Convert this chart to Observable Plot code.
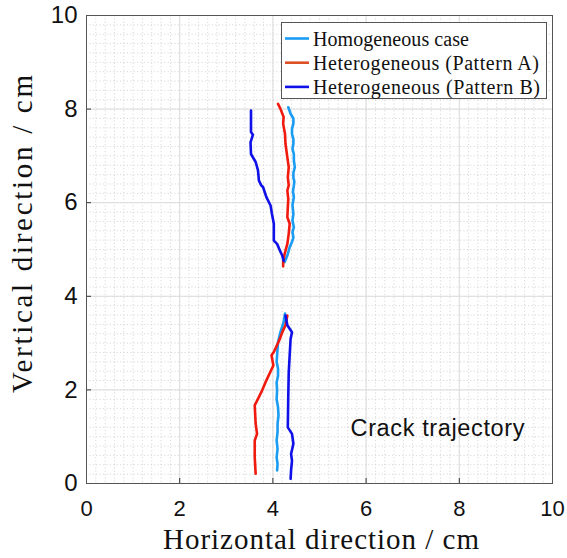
<!DOCTYPE html>
<html>
<head>
<meta charset="utf-8">
<script src="https://cdn.jsdelivr.net/npm/d3@7"></script>
<script src="https://cdn.jsdelivr.net/npm/@observablehq/plot@0.6"></script>
<style>
  html, body { margin: 0; padding: 0; background: #fff; }
</style>
</head>
<body>
<div id="chart"></div>
<script>
// Crack paths, in cm: [horizontal, vertical]
const homogeneousUpper = [[4.33,8.04],[4.38,7.90],[4.44,7.80],[4.44,7.69],[4.41,7.58],[4.41,7.47],[4.44,7.36],[4.44,7.26],[4.42,7.15],[4.45,7.04],[4.45,6.90],[4.47,6.76],[4.44,6.64],[4.44,6.54],[4.46,6.45],[4.45,6.37],[4.43,6.24],[4.45,6.12],[4.42,5.95],[4.44,5.76],[4.42,5.62],[4.45,5.48],[4.42,5.37],[4.44,5.26],[4.41,5.16],[4.36,5.05],[4.31,4.87],[4.25,4.73]];
const patternAUpper = [[4.11,8.11],[4.16,8.01],[4.23,7.83],[4.22,7.69],[4.26,7.47],[4.27,7.26],[4.31,6.97],[4.34,6.76],[4.32,6.54],[4.34,6.37],[4.31,6.26],[4.33,6.08],[4.32,5.90],[4.31,5.69],[4.36,5.55],[4.34,5.34],[4.31,5.12],[4.26,4.94],[4.22,4.76],[4.22,4.64]];
const patternBUpper = [[3.53,7.97],[3.53,7.51],[3.57,7.45],[3.52,7.29],[3.53,7.04],[3.63,6.87],[3.68,6.69],[3.70,6.47],[3.75,6.37],[3.79,6.33],[3.86,6.12],[3.95,5.94],[3.98,5.76],[4.02,5.55],[4.02,5.19],[4.09,5.12],[4.15,4.98],[4.20,4.87],[4.23,4.76]];

const homogeneousLower = [[4.09,0.28],[4.10,0.42],[4.08,0.56],[4.10,0.74],[4.08,0.92],[4.10,1.10],[4.10,1.28],[4.12,1.45],[4.11,1.63],[4.08,1.80],[4.09,1.99],[4.08,2.16],[4.11,2.30],[4.11,2.45],[4.08,2.60],[4.09,2.74],[4.11,3.02],[4.16,3.23],[4.23,3.45],[4.26,3.63]];
const patternALower = [[3.63,0.21],[3.61,0.56],[3.61,0.92],[3.66,1.06],[3.63,1.28],[3.61,1.67],[3.77,1.99],[3.84,2.16],[4.01,2.52],[3.97,2.74],[4.02,2.81],[4.15,3.09],[4.20,3.23],[4.27,3.38],[4.31,3.59]];
const patternBLower = [[4.38,0.10],[4.39,0.28],[4.41,0.49],[4.39,0.63],[4.44,0.85],[4.41,1.06],[4.32,1.20],[4.33,1.88],[4.34,2.38],[4.36,2.74],[4.38,3.09],[4.41,3.23],[4.31,3.38],[4.27,3.59]];

const seriesNames = ["Homogeneous case", "Heterogeneous (Pattern A)", "Heterogeneous (Pattern B)"];
const seriesColors = ["#1a9cf2", "#f01a0f", "#1010e8"];
const legendColors = ["#1a9cf2", "#dd4f24", "#1010e8"];

const axisTicks = [0, 2, 4, 6, 8, 10];
const minorTicks = d3.range(0, 10.001, 0.2);

const paths = [
  [homogeneousUpper, 0], [homogeneousLower, 0],
  [patternAUpper, 1], [patternALower, 1],
  [patternBUpper, 2], [patternBLower, 2]
];

const lineMarks = paths.map(([pts, k]) =>
  Plot.line(pts, {x: d => d[0], y: d => d[1], stroke: seriesColors[k], strokeWidth: 2.6, curve: "linear"})
);

const serif = "'Liberation Serif', 'DejaVu Serif', serif";

const chart = Plot.plot({
  width: 567,
  height: 558,
  marginLeft: 86,
  marginRight: 15,
  marginTop: 15,
  marginBottom: 75,
  style: {fontFamily: "'Liberation Sans', Arial, sans-serif", fontSize: "22px", color: "#111", background: "#fff"},
  x: {domain: [0, 10]},
  y: {domain: [0, 10]},
  marks: [
    Plot.gridX(minorTicks, {stroke: "#cfcfcf", strokeOpacity: 1, strokeDasharray: "1.2,2.2", strokeWidth: 0.8}),
    Plot.gridY(minorTicks, {stroke: "#cfcfcf", strokeOpacity: 1, strokeDasharray: "1.2,2.2", strokeWidth: 0.8}),
    Plot.gridX(axisTicks, {stroke: "#dcdcdc", strokeOpacity: 1}),
    Plot.gridY(axisTicks, {stroke: "#dcdcdc", strokeOpacity: 1}),
    Plot.axisX(axisTicks, {tickSize: -5, tickPadding: 22, fontSize: 22, label: null, stroke: "#333"}),
    Plot.axisY(axisTicks, {tickSize: -5, tickPadding: 14, fontSize: 24, label: null, stroke: "#333"}),
    Plot.frame({stroke: "#555"}),
    ...lineMarks,
    Plot.text(["Crack trajectory"], {frameAnchor: "bottom-right", dx: -28, dy: -48, textAnchor: "end", fontSize: 23.5, fill: "#111", className: "annot"})
  ]
});

const svg = d3.select(chart);
svg.selectAll(".annot text").attr("textLength", 174).attr("lengthAdjust", "spacing");

// axis titles
svg.append("text")
  .attr("x", 321).attr("y", 549)
  .attr("text-anchor", "middle")
  .attr("font-family", serif)
  .attr("font-size", 29).attr("fill", "#111")
  .attr("textLength", 316).attr("lengthAdjust", "spacing")
  .text("Horizontal direction / cm");
svg.append("text")
  .attr("transform", "translate(32,234) rotate(-90)")
  .attr("text-anchor", "middle")
  .attr("font-family", serif)
  .attr("font-size", 29).attr("fill", "#111")
  .attr("textLength", 318).attr("lengthAdjust", "spacing")
  .text("Vertical direction / cm");

// legend box
const legendWidths = [156, 226, 227];
const lg = svg.append("g").attr("text-anchor", "start");
lg.append("rect")
  .attr("x", 281.5).attr("y", 22.5).attr("width", 265).attr("height", 76)
  .attr("fill", "#fff").attr("stroke", "#555").attr("stroke-width", 1);
seriesNames.forEach((name, i) => {
  const cy = 38.5 + i * 24.2;
  lg.append("line")
    .attr("x1", 285).attr("x2", 309).attr("y1", cy).attr("y2", cy)
    .attr("stroke", legendColors[i]).attr("stroke-width", 2.6);
  lg.append("text")
    .attr("x", 313).attr("y", cy).attr("dy", "0.35em")
    .attr("text-anchor", "start")
    .attr("font-family", serif).attr("font-size", 20).attr("fill", "#111")
    .attr("textLength", legendWidths[i]).attr("lengthAdjust", "spacing")
    .text(name);
});

document.getElementById("chart").appendChild(chart);
</script>
</body>
</html>
